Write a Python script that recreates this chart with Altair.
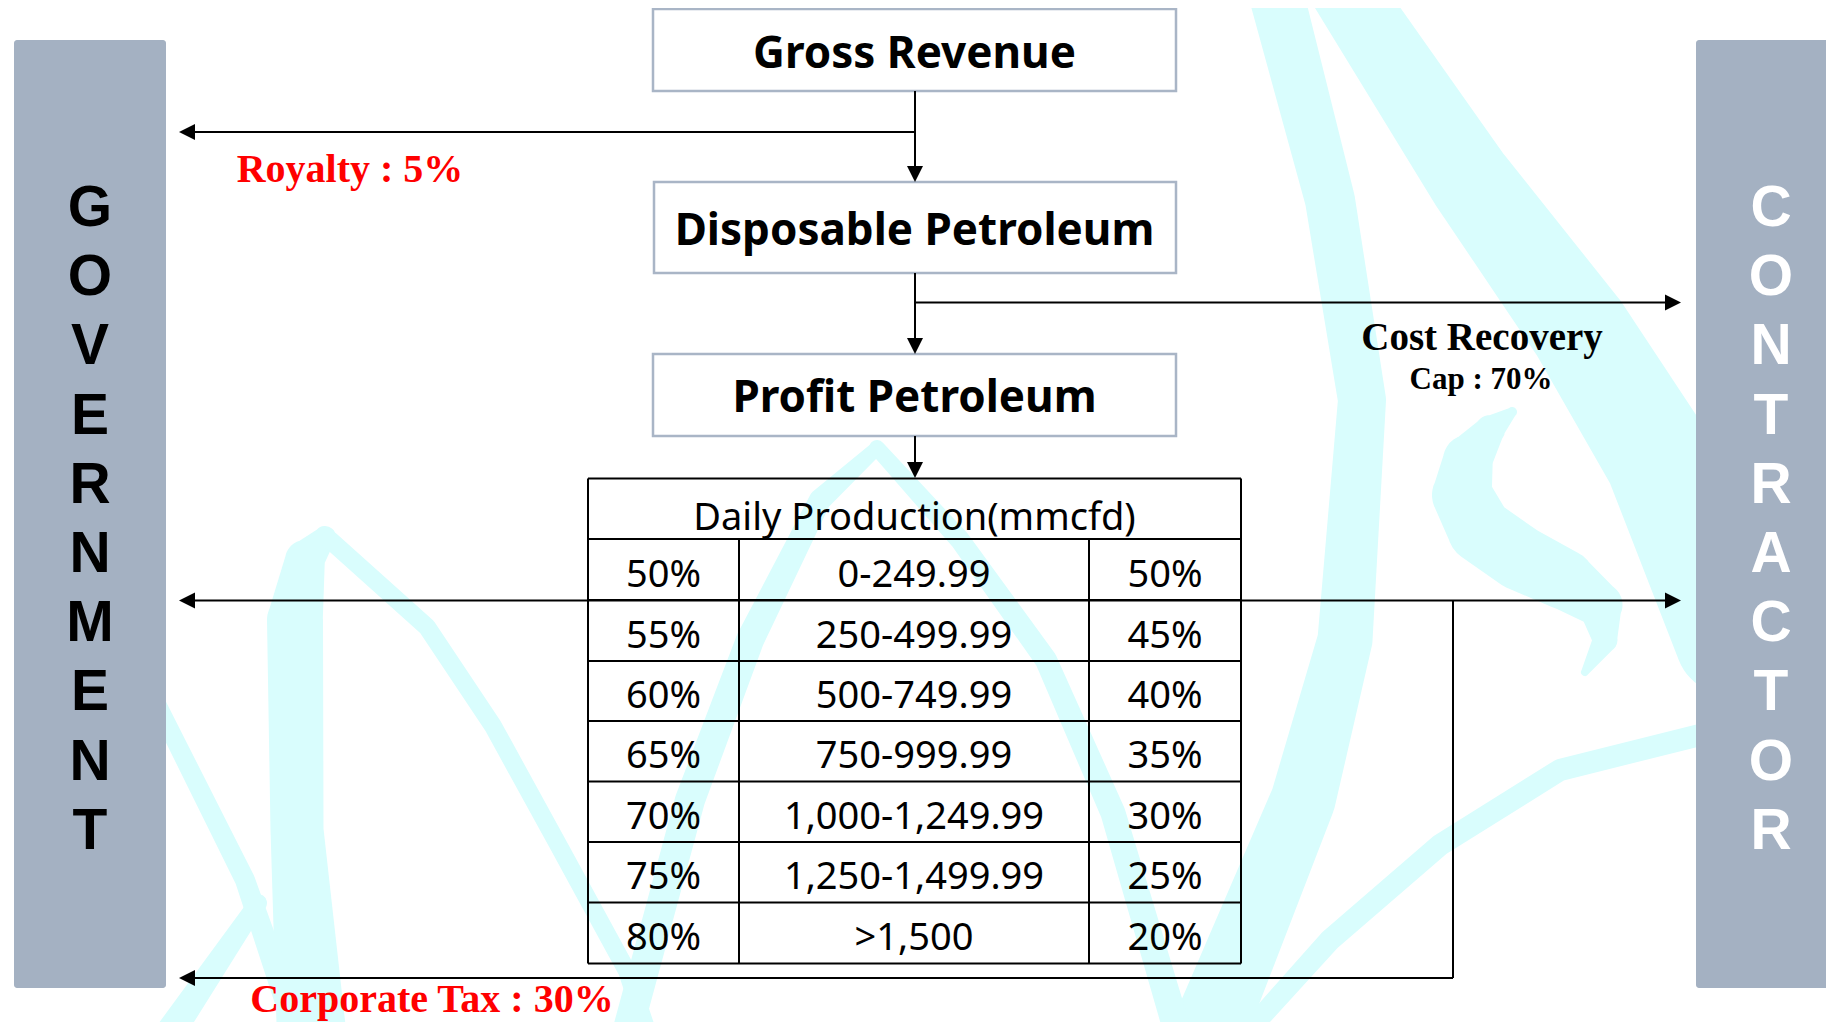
import altair as alt
import pandas as pd

# ---------------- page geometry (page pixel coordinates) ----------------
PAGE_W, PAGE_H, MARGIN = 1834, 1030, 8
W, H = PAGE_W - 2 * MARGIN, PAGE_H - 2 * MARGIN

# ---------------- content ----------------
box_labels = ["Gross Revenue", "Disposable Petroleum", "Profit Petroleum"]
gov_letters = list("GOVERNMENT")
con_letters = list("CONTRACTOR")
table_header = "Daily Production(mmcfd)"
gov_share = ["50%", "55%", "60%", "65%", "70%", "75%", "80%"]
production = ["0-249.99", "250-499.99", "500-749.99", "750-999.99",
              "1,000-1,249.99", "1,250-1,499.99", ">1,500"]
con_share = ["50%", "45%", "40%", "35%", "30%", "25%", "20%"]
red_labels = ["Royalty : 5%", "Corporate Tax : 30%"]
cost_label = "Cost Recovery"
cap_label = "Cap : 70%"

# ---------------- layout ----------------
box_left = [653, 654, 653]
box_right = [1176, 1176, 1176]
box_top = [9, 182, 354]
box_bottom = [91, 273, 436]
box_baseline = [68, 245, 412]
box_center_x = 914.5

bar_left = [14, 1696]
bar_right = [166, 1845]
bar_top = [40, 40]
bar_bottom = [988, 988]
letter_x = [90, 1771]
letter_first_baseline = 226
letter_step = 69.2

row_edges = [478.5, 539, 600, 661, 721, 781.5, 842, 902.5, 963.5]
col_edges = [588, 739, 1089, 1241]

# connector segments: x1, y1, x2, y2
seg_x1 = [915, 915, 915, 915, 915, 185, 1453, 1453]
seg_y1 = [91, 132, 273, 302.5, 436, 600.5, 600.5, 978]
seg_x2 = [915, 185, 915, 1675, 915, 1675, 1453, 185]
seg_y2 = [176, 132, 348, 302.5, 472, 600.5, 978, 978]

# arrow heads: centre and direction
head_x = [915, 187, 915, 1673, 915, 187, 1673, 187]
head_y = [174, 132, 346, 302.5, 470, 600.5, 600.5, 978]
head_dir = ["down", "left", "down", "right", "down", "left", "right", "left"]
head_path = {"down": "M0,1L-1,-1L1,-1Z", "left": "M-1,0L1,-1L1,1Z", "right": "M1,0L-1,-1L-1,1Z"}

red_x = [350, 432]
red_y = [182, 1012]
cost_x, cost_y = 1482, 350
cap_x, cap_y = 1481, 389

# decorative cyan brush strokes in the background: (x, y, width)
swooshes = {
    "S1": [(1345, -10, 70), (1470, 180, 85), (1580, 330, 100), (1660, 460, 110), (1730, 640, 110)],
    "S2": [(1275, -10, 55), (1330, 200, 50), (1362, 400, 48), (1345, 640, 55), (1303, 800, 65), (1205, 1040, 75)],
    "S3": [(1240, 1040, 20), (1330, 940, 22), (1440, 845, 22), (1560, 770, 22), (1700, 735, 22)],
    "S4": [(1512, 412, 10), (1490, 430, 30), (1468, 460, 50), (1462, 495, 60), (1480, 530, 65),
           (1520, 558, 65), (1565, 580, 60), (1600, 605, 45), (1605, 640, 25), (1585, 672, 8)],
    "S5": [(312, 1040, 70), (297, 830, 53), (295, 620, 56), (305, 560, 40), (325, 537, 22)],
    "S6a": [(150, 690, 18), (245, 880, 20), (300, 1040, 25)],
    "S6b": [(165, 1040, 30), (258, 903, 18)],
    "S7": [(330, 540, 18), (427, 627, 18), (493, 726, 18), (560, 848, 18), (627, 971, 18), (650, 1040, 18)],
    "S8": [(625, 1040, 30), (690, 800, 30), (750, 640, 28), (820, 500, 22), (877, 448, 14)],
    "S9": [(877, 448, 16), (960, 540, 20), (1046, 660, 22), (1113, 813, 25), (1180, 1040, 28)],
}

CYAN = "#d9fdfd"
BAR = "#a4b1c2"
BOX_STROKE = "#a9b5c6"

# ---------------- scales ----------------
xs = alt.Scale(domain=[MARGIN, PAGE_W - MARGIN], nice=False, zero=False)
ys = alt.Scale(domain=[MARGIN, PAGE_H - MARGIN], nice=False, zero=False, reverse=True)


def X(f):
    return alt.X(f"{f}:Q", scale=xs, axis=None)


def Y(f):
    return alt.Y(f"{f}:Q", scale=ys, axis=None)


# ---------------- data frames ----------------
sw_rows = []
for sid, pts in swooshes.items():
    for i, (x, y, w) in enumerate(pts):
        sw_rows.append({"sid": sid, "i": i, "x": x, "y": y, "w": w})
df_sw = pd.DataFrame(sw_rows)

df_bars = pd.DataFrame({"x": bar_left, "x2": bar_right, "y": bar_top, "y2": bar_bottom})
df_boxes = pd.DataFrame({"x": box_left, "x2": box_right, "y": box_top, "y2": box_bottom,
                         "label": box_labels, "bx": [box_center_x] * 3, "by": box_baseline})

t_rows = []
for yv in row_edges:
    t_rows.append({"x": col_edges[0], "x2": col_edges[-1], "y": yv, "y2": yv})
for j, xv in enumerate(col_edges):
    top = row_edges[0] if j in (0, len(col_edges) - 1) else row_edges[1]
    t_rows.append({"x": xv, "x2": xv, "y": top, "y2": row_edges[-1]})
df_table = pd.DataFrame(t_rows)

df_seg = pd.DataFrame({"x": seg_x1, "y": seg_y1, "x2": seg_x2, "y2": seg_y2})
df_heads = pd.DataFrame({"x": head_x, "y": head_y, "shape": [head_path[d] for d in head_dir]})

col_centers = [(col_edges[k] + col_edges[k + 1]) / 2 for k in range(3)]
cell_rows = [{"x": (col_edges[0] + col_edges[-1]) / 2, "y": 530, "t": table_header}]
for r in range(len(gov_share)):
    yb = (row_edges[r + 1] + row_edges[r + 2]) / 2 + 17
    for k, vals in enumerate([gov_share, production, con_share]):
        cell_rows.append({"x": col_centers[k], "y": yb, "t": vals[r]})
df_cells = pd.DataFrame(cell_rows)

df_gov = pd.DataFrame({"x": [letter_x[0]], "y": [letter_first_baseline]})
df_con = pd.DataFrame({"x": [letter_x[1]], "y": [letter_first_baseline]})
df_red = pd.DataFrame({"x": red_x, "y": red_y, "t": red_labels})
df_cost = pd.DataFrame({"x": [cost_x], "y": [cost_y], "t": [cost_label]})
df_cap = pd.DataFrame({"x": [cap_x], "y": [cap_y], "t": [cap_label]})

# ---------------- layers ----------------
bg = alt.Chart(df_sw).mark_trail(color=CYAN).encode(
    x=X("x"), y=Y("y"), size=alt.Size("w:Q", scale=None, legend=None),
    detail="sid:N", order="i:Q")

bars = alt.Chart(df_bars).mark_rect(color=BAR, cornerRadius=3).encode(
    x=X("x"), x2="x2", y=Y("y"), y2="y2")

boxes = alt.Chart(df_boxes).mark_rect(fill="white", stroke=BOX_STROKE, strokeWidth=2.5).encode(
    x=X("x"), x2="x2", y=Y("y"), y2="y2")

box_text = alt.Chart(df_boxes).mark_text(
    font="Noto Sans", fontWeight="bold", fontSize=44, color="black",
    align="center", baseline="alphabetic").encode(x=X("bx"), y=Y("by"), text="label:N")

table = alt.Chart(df_table).mark_rule(color="black", strokeWidth=2).encode(
    x=X("x"), x2="x2", y=Y("y"), y2="y2")

segs = alt.Chart(df_seg).mark_rule(color="black", strokeWidth=2).encode(
    x=X("x"), x2="x2", y=Y("y"), y2="y2")

heads = alt.Chart(df_heads).mark_point(filled=True, color="black", opacity=1, size=256, strokeWidth=0).encode(
    x=X("x"), y=Y("y"), shape=alt.Shape("shape:N", scale=None, legend=None))

cells = alt.Chart(df_cells).mark_text(
    font="Noto Sans", fontSize=38, color="black", align="center", baseline="alphabetic").encode(
    x=X("x"), y=Y("y"), text="t:N")

gov = alt.Chart(df_gov).mark_text(
    text=gov_letters, lineHeight=letter_step,
    font="Liberation Sans", fontWeight="bold", fontSize=57, color="black", align="center",
    baseline="alphabetic").encode(x=X("x"), y=Y("y"))

con = alt.Chart(df_con).mark_text(
    text=con_letters, lineHeight=letter_step,
    font="Liberation Sans", fontWeight="bold", fontSize=57, color="white", align="center",
    baseline="alphabetic").encode(x=X("x"), y=Y("y"))

red = alt.Chart(df_red).mark_text(
    font="Liberation Serif", fontWeight="bold", fontSize=40, color="#ff0000", align="center",
    baseline="alphabetic").encode(x=X("x"), y=Y("y"), text="t:N")

cost = alt.Chart(df_cost).mark_text(
    font="Liberation Serif", fontWeight="bold", fontSize=39, color="black", align="center",
    baseline="alphabetic").encode(x=X("x"), y=Y("y"), text="t:N")

cap = alt.Chart(df_cap).mark_text(
    font="Liberation Serif", fontWeight="bold", fontSize=31, color="black", align="center",
    baseline="alphabetic").encode(x=X("x"), y=Y("y"), text="t:N")

chart = alt.layer(bg, bars, boxes, box_text, table, segs, heads, cells, gov, con, red, cost, cap).properties(
    width=W, height=H, padding=0, background="white",
    autosize=alt.AutoSizeParams(type="none"),
).configure_view(stroke=None)

chart.save("out.html", embed_options={"renderer": "svg", "actions": False})
